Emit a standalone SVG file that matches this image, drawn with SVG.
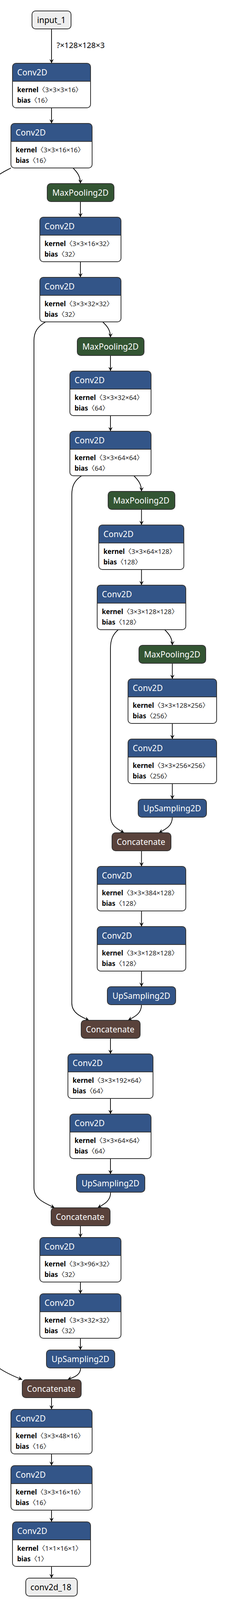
<svg xmlns="http://www.w3.org/2000/svg" xmlns:xlink="http://www.w3.org/1999/xlink" width="620" height="4196" viewBox="0 0 620 4196">
<style>
text{font-family:"Noto Sans","Noto Sans CJK SC",sans-serif}
.hdc{fill:#335588}
.bd{fill:#fff}
.bo{fill:none;stroke:#333;stroke-width:2}
.dv{stroke:#333;stroke-width:2}
.pool{fill:#335533;stroke:#333;stroke-width:2}
.up{fill:#335588;stroke:#333;stroke-width:2}
.cat{fill:#59423b;stroke:#333;stroke-width:2}
.io{fill:#eeeeee;stroke:#333;stroke-width:2}
.t{font-size:21px;fill:#fff}
.ti{font-size:21px;fill:#000}
.a{font-size:17px;fill:#000}
.k{font-weight:bold}
.v{fill:#222}
.lbl{font-size:20px;fill:#000}
.e{fill:none;stroke:#000;stroke-width:1.8}
</style>
<defs>
<marker id="ah" viewBox="0 0 10 10" refX="10" refY="5" markerUnits="userSpaceOnUse" markerWidth="11" markerHeight="11" orient="auto">
<path d="M0,0 L10,5 L0,10 L4,5 Z" fill="#000"/>
</marker>
<g id="c200">
<path class="hdc" d="M0,46 V9 A9,9 0 0 1 9,0 H191 A9,9 0 0 1 200,9 V46 Z"/>
<path class="bd" d="M0,46 H200 V105 A9,9 0 0 1 191,114 H9 A9,9 0 0 1 0,105 Z"/>
<rect class="bo" width="200" height="114" rx="9"/>
<line class="dv" x1="0" y1="46" x2="200" y2="46"/>
</g>
<g id="c208">
<path class="hdc" d="M0,46 V9 A9,9 0 0 1 9,0 H199 A9,9 0 0 1 208,9 V46 Z"/>
<path class="bd" d="M0,46 H208 V105 A9,9 0 0 1 199,114 H9 A9,9 0 0 1 0,105 Z"/>
<rect class="bo" width="208" height="114" rx="9"/>
<line class="dv" x1="0" y1="46" x2="208" y2="46"/>
</g>
<g id="c218">
<path class="hdc" d="M0,46 V9 A9,9 0 0 1 9,0 H209 A9,9 0 0 1 218,9 V46 Z"/>
<path class="bd" d="M0,46 H218 V105 A9,9 0 0 1 209,114 H9 A9,9 0 0 1 0,105 Z"/>
<rect class="bo" width="218" height="114" rx="9"/>
<line class="dv" x1="0" y1="46" x2="218" y2="46"/>
</g>
<g id="c227">
<path class="hdc" d="M0,46 V9 A9,9 0 0 1 9,0 H218 A9,9 0 0 1 227,9 V46 Z"/>
<path class="bd" d="M0,46 H227 V105 A9,9 0 0 1 218,114 H9 A9,9 0 0 1 0,105 Z"/>
<rect class="bo" width="227" height="114" rx="9"/>
<line class="dv" x1="0" y1="46" x2="227" y2="46"/>
</g>
</defs>

<g id="edges" class="e" marker-end="url(#ah)">
<path d="M132,74 V162"/>
<path d="M132,276 V316"/>
<path d="M187,430 C199,442 206,452 206,470"/>
<path d="M28,430 C8,441 -30,455 -30,495 L-30,3455 C-30,3495 15,3515 57,3532"/>
<path d="M206,516 V556"/>
<path d="M206,670 V710"/>
<path d="M263,824 C276,836 283,846 283,864"/>
<path d="M117,824 C96,836 87,850 87,872 L87,3040 C87,3068 110,3078 140,3092"/>
<path d="M283,910 V950"/>
<path d="M283,1064 V1104"/>
<path d="M343,1218 C355,1230 362.5,1240 362.5,1258"/>
<path d="M209,1218 C191,1230 184,1244 184,1266 L184,2568 C184,2592 205,2602 228,2612"/>
<path d="M362.5,1304 V1344"/>
<path d="M362.5,1458 V1498"/>
<path d="M422,1612 C434,1624 441.5,1634 441.5,1652"/>
<path d="M303,1612 C289,1624 283,1638 283,1660 L283,2088 C283,2114 300,2122 318,2132"/>
<path d="M441.5,1698 V1738"/>
<path d="M441.5,1852 V1892"/>
<path d="M441.5,2006 V2046"/>
<path d="M441.5,2092 C441.5,2114 426,2122 407,2132"/>
<path d="M362.5,2178 V2218"/>
<path d="M362.5,2332 V2372"/>
<path d="M362.5,2486 V2526"/>
<path d="M362.5,2572 C362.5,2594 347,2602 328,2612"/>
<path d="M283,2658 V2698"/>
<path d="M283,2812 V2852"/>
<path d="M283,2966 V3006"/>
<path d="M283.5,3052 C283.5,3074 268,3082 250,3092"/>
<path d="M206,3138 V3168"/>
<path d="M206,3282 V3312"/>
<path d="M206,3426 V3456"/>
<path d="M206.5,3502 C206.5,3520 191,3525 173,3532"/>
<path d="M132,3578 V3608"/>
<path d="M132,3722 V3752"/>
<path d="M132,3866 V3896"/>
<path d="M132,4010 V4040"/>
</g>
<text class="lbl" x="145" y="123">?×128×128×3</text>

<g id="input_1"><rect class="io" x="82" y="28" width="100" height="46" rx="9"/><text class="ti" x="95" y="59">input_1</text></g>

<g id="conv2d_1"><use xlink:href="#c200" x="32" y="162"/><text class="t" x="44" y="193">Conv2D</text><text class="a" x="44" y="236"><tspan class="k">kernel</tspan><tspan class="v">〈3×3×3×16〉</tspan></text><text class="a" x="44" y="263"><tspan class="k">bias</tspan><tspan class="v">〈16〉</tspan></text></g>
<g id="conv2d_2"><use xlink:href="#c208" x="28" y="316"/><text class="t" x="40" y="347">Conv2D</text><text class="a" x="40" y="390"><tspan class="k">kernel</tspan><tspan class="v">〈3×3×16×16〉</tspan></text><text class="a" x="40" y="417"><tspan class="k">bias</tspan><tspan class="v">〈16〉</tspan></text></g>
<g id="max_pooling2d_1"><rect class="pool" x="121" y="470" width="171" height="46" rx="9"/><text class="t" x="134" y="501">MaxPooling2D</text></g>
<g id="conv2d_3"><use xlink:href="#c208" x="102" y="556"/><text class="t" x="114" y="587">Conv2D</text><text class="a" x="114" y="630"><tspan class="k">kernel</tspan><tspan class="v">〈3×3×16×32〉</tspan></text><text class="a" x="114" y="657"><tspan class="k">bias</tspan><tspan class="v">〈32〉</tspan></text></g>
<g id="conv2d_4"><use xlink:href="#c208" x="102" y="710"/><text class="t" x="114" y="741">Conv2D</text><text class="a" x="114" y="784"><tspan class="k">kernel</tspan><tspan class="v">〈3×3×32×32〉</tspan></text><text class="a" x="114" y="811"><tspan class="k">bias</tspan><tspan class="v">〈32〉</tspan></text></g>
<g id="max_pooling2d_2"><rect class="pool" x="198" y="864" width="171" height="46" rx="9"/><text class="t" x="211" y="895">MaxPooling2D</text></g>
<g id="conv2d_5"><use xlink:href="#c208" x="179" y="950"/><text class="t" x="191" y="981">Conv2D</text><text class="a" x="191" y="1024"><tspan class="k">kernel</tspan><tspan class="v">〈3×3×32×64〉</tspan></text><text class="a" x="191" y="1051"><tspan class="k">bias</tspan><tspan class="v">〈64〉</tspan></text></g>
<g id="conv2d_6"><use xlink:href="#c208" x="179" y="1104"/><text class="t" x="191" y="1135">Conv2D</text><text class="a" x="191" y="1178"><tspan class="k">kernel</tspan><tspan class="v">〈3×3×64×64〉</tspan></text><text class="a" x="191" y="1205"><tspan class="k">bias</tspan><tspan class="v">〈64〉</tspan></text></g>
<g id="max_pooling2d_3"><rect class="pool" x="277" y="1258" width="171" height="46" rx="9"/><text class="t" x="290" y="1289">MaxPooling2D</text></g>
<g id="conv2d_7"><use xlink:href="#c218" x="253" y="1344"/><text class="t" x="265" y="1375">Conv2D</text><text class="a" x="265" y="1418"><tspan class="k">kernel</tspan><tspan class="v">〈3×3×64×128〉</tspan></text><text class="a" x="265" y="1445"><tspan class="k">bias</tspan><tspan class="v">〈128〉</tspan></text></g>
<g id="conv2d_8"><use xlink:href="#c227" x="249" y="1498"/><text class="t" x="261" y="1529">Conv2D</text><text class="a" x="261" y="1572"><tspan class="k">kernel</tspan><tspan class="v">〈3×3×128×128〉</tspan></text><text class="a" x="261" y="1599"><tspan class="k">bias</tspan><tspan class="v">〈128〉</tspan></text></g>
<g id="max_pooling2d_4"><rect class="pool" x="356" y="1652" width="171" height="46" rx="9"/><text class="t" x="369" y="1683">MaxPooling2D</text></g>
<g id="conv2d_9"><use xlink:href="#c227" x="328" y="1738"/><text class="t" x="340" y="1769">Conv2D</text><text class="a" x="340" y="1812"><tspan class="k">kernel</tspan><tspan class="v">〈3×3×128×256〉</tspan></text><text class="a" x="340" y="1839"><tspan class="k">bias</tspan><tspan class="v">〈256〉</tspan></text></g>
<g id="conv2d_10"><use xlink:href="#c227" x="328" y="1892"/><text class="t" x="340" y="1923">Conv2D</text><text class="a" x="340" y="1966"><tspan class="k">kernel</tspan><tspan class="v">〈3×3×256×256〉</tspan></text><text class="a" x="340" y="1993"><tspan class="k">bias</tspan><tspan class="v">〈256〉</tspan></text></g>
<g id="up_sampling2d_1"><rect class="up" x="354" y="2046" width="175" height="46" rx="9"/><text class="t" x="367" y="2077">UpSampling2D</text></g>
<g id="concatenate_1"><rect class="cat" x="287" y="2132" width="151" height="46" rx="9"/><text class="t" x="299" y="2163">Concatenate</text></g>
<g id="conv2d_11"><use xlink:href="#c227" x="249" y="2218"/><text class="t" x="261" y="2249">Conv2D</text><text class="a" x="261" y="2292"><tspan class="k">kernel</tspan><tspan class="v">〈3×3×384×128〉</tspan></text><text class="a" x="261" y="2319"><tspan class="k">bias</tspan><tspan class="v">〈128〉</tspan></text></g>
<g id="conv2d_12"><use xlink:href="#c227" x="249" y="2372"/><text class="t" x="261" y="2403">Conv2D</text><text class="a" x="261" y="2446"><tspan class="k">kernel</tspan><tspan class="v">〈3×3×128×128〉</tspan></text><text class="a" x="261" y="2473"><tspan class="k">bias</tspan><tspan class="v">〈128〉</tspan></text></g>
<g id="up_sampling2d_2"><rect class="up" x="275" y="2526" width="175" height="46" rx="9"/><text class="t" x="288" y="2557">UpSampling2D</text></g>
<g id="concatenate_2"><rect class="cat" x="208" y="2612" width="151" height="46" rx="9"/><text class="t" x="220" y="2643">Concatenate</text></g>
<g id="conv2d_13"><use xlink:href="#c218" x="174" y="2698"/><text class="t" x="186" y="2729">Conv2D</text><text class="a" x="186" y="2772"><tspan class="k">kernel</tspan><tspan class="v">〈3×3×192×64〉</tspan></text><text class="a" x="186" y="2799"><tspan class="k">bias</tspan><tspan class="v">〈64〉</tspan></text></g>
<g id="conv2d_14"><use xlink:href="#c208" x="179" y="2852"/><text class="t" x="191" y="2883">Conv2D</text><text class="a" x="191" y="2926"><tspan class="k">kernel</tspan><tspan class="v">〈3×3×64×64〉</tspan></text><text class="a" x="191" y="2953"><tspan class="k">bias</tspan><tspan class="v">〈64〉</tspan></text></g>
<g id="up_sampling2d_3"><rect class="up" x="196" y="3006" width="175" height="46" rx="9"/><text class="t" x="209" y="3037">UpSampling2D</text></g>
<g id="concatenate_3"><rect class="cat" x="131" y="3092" width="151" height="46" rx="9"/><text class="t" x="143" y="3123">Concatenate</text></g>
<g id="conv2d_15"><use xlink:href="#c208" x="102" y="3168"/><text class="t" x="114" y="3199">Conv2D</text><text class="a" x="114" y="3242"><tspan class="k">kernel</tspan><tspan class="v">〈3×3×96×32〉</tspan></text><text class="a" x="114" y="3269"><tspan class="k">bias</tspan><tspan class="v">〈32〉</tspan></text></g>
<g id="conv2d_16"><use xlink:href="#c208" x="102" y="3312"/><text class="t" x="114" y="3343">Conv2D</text><text class="a" x="114" y="3386"><tspan class="k">kernel</tspan><tspan class="v">〈3×3×32×32〉</tspan></text><text class="a" x="114" y="3413"><tspan class="k">bias</tspan><tspan class="v">〈32〉</tspan></text></g>
<g id="up_sampling2d_4"><rect class="up" x="119" y="3456" width="175" height="46" rx="9"/><text class="t" x="132" y="3487">UpSampling2D</text></g>
<g id="concatenate_4"><rect class="cat" x="57" y="3532" width="151" height="46" rx="9"/><text class="t" x="69" y="3563">Concatenate</text></g>
<g id="conv2d_17"><use xlink:href="#c208" x="28" y="3608"/><text class="t" x="40" y="3639">Conv2D</text><text class="a" x="40" y="3682"><tspan class="k">kernel</tspan><tspan class="v">〈3×3×48×16〉</tspan></text><text class="a" x="40" y="3709"><tspan class="k">bias</tspan><tspan class="v">〈16〉</tspan></text></g>
<g id="conv2d_18n"><use xlink:href="#c208" x="28" y="3752"/><text class="t" x="40" y="3783">Conv2D</text><text class="a" x="40" y="3826"><tspan class="k">kernel</tspan><tspan class="v">〈3×3×16×16〉</tspan></text><text class="a" x="40" y="3853"><tspan class="k">bias</tspan><tspan class="v">〈16〉</tspan></text></g>
<g id="conv2d_19"><use xlink:href="#c200" x="32" y="3896"/><text class="t" x="44" y="3927">Conv2D</text><text class="a" x="44" y="3970"><tspan class="k">kernel</tspan><tspan class="v">〈1×1×16×1〉</tspan></text><text class="a" x="44" y="3997"><tspan class="k">bias</tspan><tspan class="v">〈1〉</tspan></text></g>
<g id="conv2d_18"><rect class="io" x="66" y="4040" width="132" height="46" rx="9"/><text class="ti" x="78" y="4071">conv2d_18</text></g>
</svg>
